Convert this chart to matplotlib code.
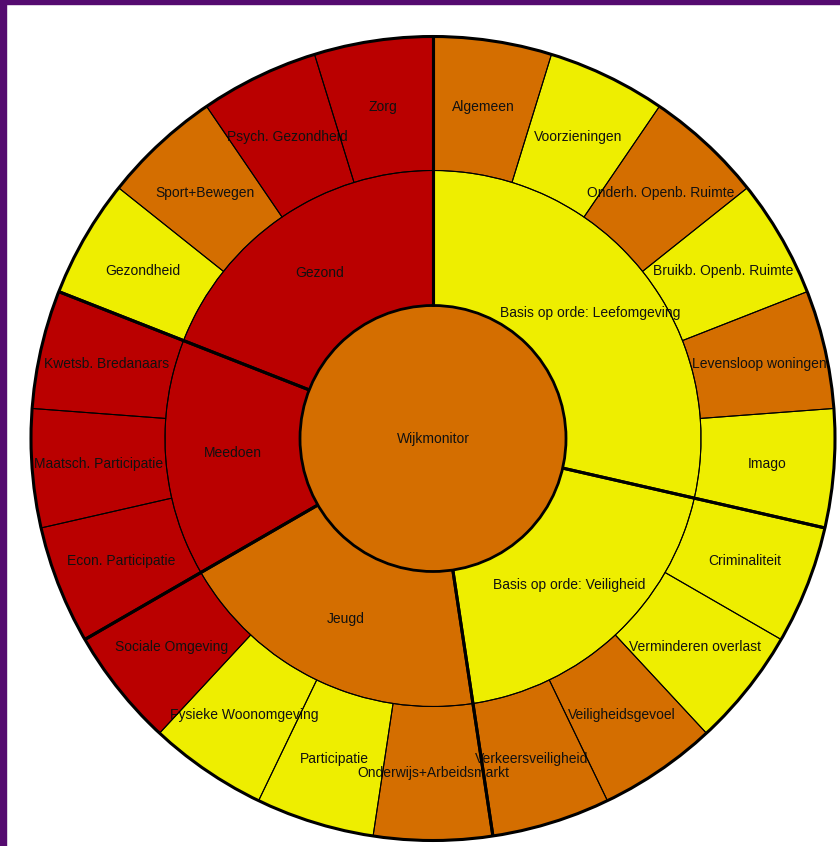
"""Sunburst van de Wijkmonitor (scores per thema)."""

import matplotlib.pyplot as plt
import numpy as np
from matplotlib.patches import Circle, Rectangle

plt.rcParams["font.family"] = ["Liberation Sans", "DejaVu Sans"]

# --- data -------------------------------------------------------------
root_label = "Wijkmonitor"
root_score = "oranje"

groups = [
    "Basis op orde: Leefomgeving",
    "Basis op orde: Veiligheid",
    "Jeugd",
    "Meedoen",
    "Gezond",
]
group_scores = ["geel", "geel", "oranje", "rood", "rood"]

leaves = [
    ["Algemeen", "Voorzieningen", "Onderh. Openb. Ruimte", "Bruikb. Openb. Ruimte",
     "Levensloop woningen", "Imago"],
    ["Criminaliteit", "Verminderen overlast", "Veiligheidsgevoel", "Verkeersveiligheid"],
    ["Onderwijs+Arbeidsmarkt", "Participatie", "Fysieke Woonomgeving", "Sociale Omgeving"],
    ["Econ. Participatie", "Maatsch. Participatie", "Kwetsb. Bredanaars"],
    ["Gezondheid", "Sport+Bewegen", "Psych. Gezondheid", "Zorg"],
]
leaf_scores = [
    ["oranje", "geel", "oranje", "geel", "oranje", "geel"],
    ["geel", "geel", "oranje", "oranje"],
    ["oranje", "geel", "geel", "rood"],
    ["rood", "rood", "rood"],
    ["geel", "oranje", "rood", "rood"],
]

palette = {"rood": "#ba0000", "oranje": "#d46e00", "geel": "#eeee00"}

# --- layout (pixels) --------------------------------------------------
W, H = 840, 846
cx, cy = 433, H - 438.5
r_in, r_mid, r_out = 133, 268, 402

fig = plt.figure(figsize=(W / 100, H / 100), dpi=100)
ax = fig.add_axes([0, 0, 1, 1])

leaf_names = [n for grp in leaves for n in grp]
leaf_cols = [palette[s] for grp in leaf_scores for s in grp]
group_sizes = [len(grp) for grp in leaves]
leaf_vals = np.ones(len(leaf_names))

common = dict(center=(cx, cy), startangle=90, counterclock=False)

# fills first
outer, _ = ax.pie(leaf_vals, radius=r_out, colors=leaf_cols,
                  wedgeprops=dict(width=r_out - r_mid, linewidth=0), **common)
middle, _ = ax.pie(group_sizes, radius=r_mid, colors=[palette[s] for s in group_scores],
                   wedgeprops=dict(width=r_mid - r_in, linewidth=0), **common)
ax.pie([1], radius=r_in, colors=[palette[root_score]],
       wedgeprops=dict(linewidth=0), **common)

# thin borders drawn on top of the labels
edge = dict(fill=False, edgecolor="black", linewidth=0.75, zorder=5)
edges_out, _ = ax.pie(leaf_vals, radius=r_out,
                      wedgeprops=dict(width=r_out - r_mid, **edge), **common)
edges_mid, _ = ax.pie(group_sizes, radius=r_mid,
                      wedgeprops=dict(width=r_mid - r_in, **edge), **common)


def label_ring(wedges, names, radius):
    for w, name in zip(wedges, names):
        ang = np.deg2rad((w.theta1 + w.theta2) / 2)
        ax.text(cx + radius * np.cos(ang), cy + radius * np.sin(ang), name,
                ha="center", va="center", fontsize=10, color="#111111", zorder=3)


label_ring(outer, leaf_names, (r_mid + r_out) / 2)
label_ring(middle, groups, (r_in + r_mid) / 2)
ax.text(cx, cy, root_label, ha="center", va="center", fontsize=10,
        color="#111111", zorder=3)

# thick borders between the main themes
for w in middle:
    for t in (w.theta1, w.theta2):
        a = np.deg2rad(t)
        ax.plot([cx + r_in * np.cos(a), cx + r_out * np.cos(a)],
                [cy + r_in * np.sin(a), cy + r_out * np.sin(a)],
                color="black", linewidth=2.2, solid_capstyle="butt", zorder=6)

ax.add_patch(Circle((cx, cy), r_in, fill=False, edgecolor="black", linewidth=2.0, zorder=7))
ax.add_patch(Circle((cx, cy), r_out, fill=False, edgecolor="black", linewidth=2.2, zorder=7))

ax.set_xlim(0, W)
ax.set_ylim(0, H)
ax.set_aspect("equal")
ax.axis("off")

# purple frame of the screenshot (top and left)
fig.add_artist(Rectangle((0, 0), 6 / W, 1, transform=fig.transFigure,
                         color="#550b70", zorder=100))
fig.add_artist(Rectangle((0, 1 - 4 / H), 1, 4 / H, transform=fig.transFigure,
                         color="#550b70", zorder=100))

fig.savefig("out.png", dpi=100)
plt.close(fig)
